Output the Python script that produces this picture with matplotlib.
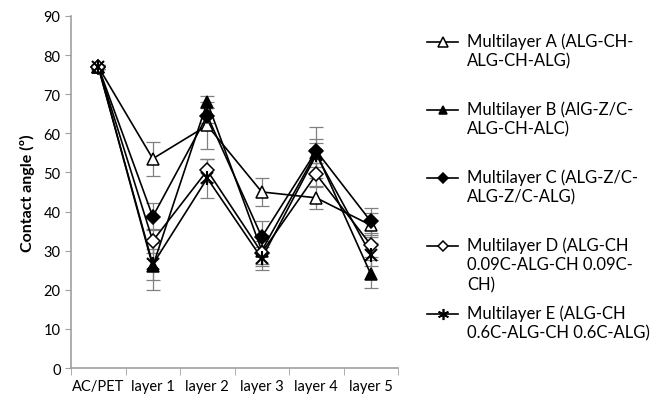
import numpy as np
import matplotlib
matplotlib.use("Agg")
import matplotlib.pyplot as plt
from matplotlib.lines import Line2D

plt.rcParams["font.family"] = ["Lato", "DejaVu Sans"]

categories = ["AC/PET", "layer 1", "layer 2", "layer 3", "layer 4", "layer 5"]

labels = [
    "Multilayer A (ALG-CH-\nALG-CH-ALG)",
    "Multilayer B (AlG-Z/C-\nALG-CH-ALC)",
    "Multilayer C (ALG-Z/C-\nALG-Z/C-ALG)",
    "Multilayer D (ALG-CH\n0.09C-ALG-CH 0.09C-\nCH)",
    "Multilayer E (ALG-CH\n0.6C-ALG-CH 0.6C-ALG)",
]

vals_a = [77, 53.5, 62, 45, 43.5, 36.5]
vals_b = [77, 26, 68, 30, 55, 24]
vals_c = [77, 38.7, 64.5, 33.5, 55.5, 37.5]
vals_d = [77, 32.5, 50.5, 29.5, 49.5, 31.5]
vals_e = [77, 26.5, 48.5, 28, 54.5, 29]

err_a = [0.5, 4.3, 6, 3.5, 2.8, 3]
err_b = [0.5, 6, 1.5, 4, 6.5, 3.5]
err_c = [0.5, 3.5, 2, 4, 3, 3.5]
err_d = [0.5, 3, 3, 3, 3, 3]
err_e = [0.5, 4, 5, 3, 3, 3]

# marker, face colour, size
styles = [
    ("^", "white", 9),
    ("^", "black", 8),
    ("D", "black", 7),
    ("D", "white", 7),
    ("x", "black", 9),
]

W, H = 654, 402
fig = plt.figure(figsize=(W / 100, H / 100), dpi=100)
ax = fig.add_axes([0.1086, 0.082, 0.5, 0.876])

x = np.arange(len(categories))
series = [(vals_a, err_a), (vals_b, err_b), (vals_c, err_c), (vals_d, err_d), (vals_e, err_e)]

for (vals, errs), (mk, fc, ms) in zip(series, styles):
    ax.errorbar(x, vals, yerr=errs, fmt="none", ecolor="#808080", elinewidth=0.9,
                capsize=5, capthick=0.9, zorder=2)
    ax.plot(x, vals, color="black", lw=1.2, zorder=3)
    if mk == "x":
        ax.plot(x, vals, ls="none", marker="x", ms=ms, mew=1.5, color="black", zorder=4)
        ax.plot(x, vals, ls="none", marker="|", ms=ms + 1, mew=1.5, color="black", zorder=4)
    else:
        ax.plot(x, vals, ls="none", marker=mk, ms=ms, mfc=fc, mec="black", mew=1.1, zorder=4)

ax.set_xlim(-0.5, len(categories) - 0.5)
ax.set_ylim(0, 90)
ax.set_yticks(np.arange(0, 91, 10))
ax.set_xticks(x)
ax.set_xticklabels(categories)
ax.set_xticks(np.arange(-0.5, len(categories), 1), minor=True)
ax.tick_params(axis="x", which="major", length=0, labelsize=10.5, pad=8)
ax.tick_params(axis="x", which="minor", length=5, color="#a0a0a0", direction="out")
ax.tick_params(axis="y", length=4, color="#a0a0a0", labelsize=10.5)

for s in ("top", "right"):
    ax.spines[s].set_visible(False)
for s in ("left", "bottom"):
    ax.spines[s].set_color("#a0a0a0")
    ax.spines[s].set_linewidth(1.2)

ax.set_ylabel("Contact angle (º)", fontsize=11.5, fontweight="bold", labelpad=6)

# legend entries at fixed spacing, like the original (D overflows its slot)
for i, ((mk, fc, ms), lab) in enumerate(zip(styles, labels)):
    yc = 1 - (43 + 68 * i) / H
    x0, x1 = 427 / W, 458 / W
    fig.add_artist(Line2D([x0, x1], [yc, yc], transform=fig.transFigure, color="black", lw=1.2))
    if mk == "x":
        fig.add_artist(Line2D([(x0 + x1) / 2], [yc], transform=fig.transFigure, ls="none",
                              marker=(6, 2, 0), ms=8, mew=1.2, color="black"))
    else:
        fig.add_artist(Line2D([(x0 + x1) / 2], [yc], transform=fig.transFigure, ls="none",
                              marker=mk, ms=ms - 2, mfc=fc, mec="black", mew=1.1))
    fig.text(467 / W, yc + 10 / H, lab, fontsize=12, va="top", ha="left", linespacing=1.3)

fig.savefig("out.png", dpi=100)
